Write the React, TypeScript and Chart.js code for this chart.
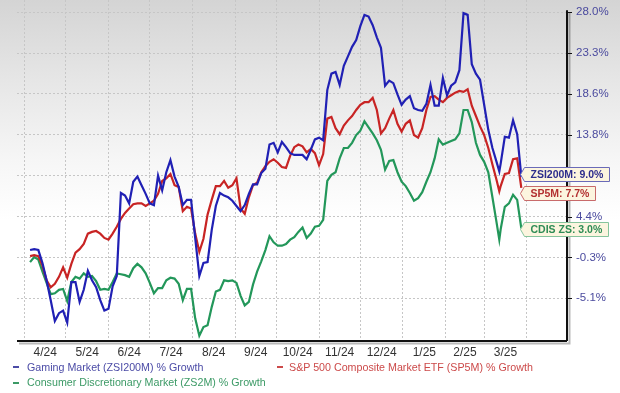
import { useEffect, useRef } from 'react';
import { Chart, registerables } from 'chart.js';

Chart.register(...registerables);

const FONT = '"Liberation Sans", Arial, Helvetica, sans-serif';

// x values: days since 2024-04-01
const days = [
  4, 7, 10, 13, 16, 19, 22, 25, 28, 31,
  34, 37, 40, 43, 46, 49, 52, 55, 58, 61,
  64, 67, 70, 73, 76, 79, 82, 85, 88, 91,
  94, 97, 100, 103, 106, 109, 112, 115, 118, 121,
  124, 127, 130, 133, 136, 139, 142, 145, 148, 151,
  154, 157, 160, 163, 166, 169, 172, 175, 178, 181,
  184, 187, 190, 193, 196, 199, 202, 205, 208, 211,
  214, 217, 220, 223, 226, 229, 232, 235, 238, 241,
  244, 247, 250, 253, 256, 259, 262, 265, 268, 271,
  274, 277, 280, 283, 286, 289, 292, 295, 298, 301,
  304, 307, 310, 313, 316, 319, 322, 325, 328, 331,
  334, 337, 340, 343, 345,
  346, 349, 352, 355, 358, 361,
];

const gaming = [
  0.5, 0.6, 0.5, -1.0, -3.0, -5.3, -7.7, -6.8, -6.5, -7.9,
  -3.2, -3.2, -5.5, -4.1, -1.9, -3.0, -3.8, -5.3, -6.5, -6.3,
  -3.7, -2.5, 7.1, 6.8, 5.9, 8.4, 9.0, 8.0, 7.0, 5.9,
  5.7, 9.1, 7.4, 9.5, 10.9, 9.0, 7.8, 5.7, 6.3, 6.3,
  1.9, -2.5, -1.0, -0.9, 2.8, 5.6, 7.1, 6.8, 6.6, 6.2,
  5.6, 5.0, 5.7, 7.0, 8.1, 8.1, 9.4, 9.9, 12.7, 12.9,
  11.8, 13.0, 12.4, 11.7, 11.5, 11.5, 11.5, 11.0, 12.1, 13.3,
  13.5, 13.2, 19.0, 20.9, 21.1, 19.6, 21.8, 22.9, 24.0, 24.8,
  26.4, 27.7, 27.5, 26.5, 25.1, 23.9, 19.5, 20.1, 19.8, 18.5,
  17.3, 17.9, 18.3, 16.9, 16.7, 16.6, 17.4, 19.6, 17.2, 17.2,
  20.4, 18.4, 19.5, 19.9, 21.3, 27.9, 27.7, 22.0, 20.9, 20.2,
  17.3, 14.4, 12.3, 10.7, 9.6,
  10.5, 13.6, 13.5, 15.5, 13.9, 9.0,
];

const sp500 = [
  -0.2, -0.1, -0.2, -1.3, -3.0, -3.8, -3.4, -2.6, -1.5, -2.7,
  -1.1, 0.2, 0.6, 1.2, 2.4, 2.6, 2.7, 2.4, 1.9, 1.7,
  2.4, 3.2, 4.1, 4.8, 5.3, 5.8, 5.9, 5.9, 5.6, 5.9,
  6.2, 7.0, 8.5, 8.8, 9.3, 8.0, 7.8, 5.0, 5.5, 5.3,
  2.4, 0.3, 1.8, 4.6, 6.3, 7.9, 7.9, 8.5, 7.7, 8.0,
  8.8, 5.3, 4.7, 6.6, 8.0, 8.3, 9.5, 10.2, 10.7, 11.0,
  10.6, 10.1, 10.0, 11.4, 12.4, 12.7, 12.5, 11.8, 12.2, 11.7,
  10.3, 11.6, 15.7, 15.9, 14.6, 13.9, 14.9, 15.5, 16.0, 16.7,
  17.3, 17.6, 17.6, 18.1, 16.7, 14.0, 14.6, 15.7, 16.7, 15.1,
  14.2, 15.1, 15.5, 13.8, 13.5, 14.6, 16.7, 18.2, 18.3, 17.9,
  17.6, 18.1, 18.4, 18.7, 18.9, 18.8, 19.1, 17.2, 16.0, 14.8,
  13.8, 12.3, 10.4, 8.6, 7.3,
  7.9, 9.3, 9.4, 11.0, 11.1, 7.7,
];

const consumer = [
  -0.9, -0.3, -0.6, -2.0, -3.3, -4.6, -4.5, -4.1, -4.0, -5.4,
  -3.2, -2.6, -2.8, -2.2, -2.6, -2.5, -3.1, -4.1, -4.0, -4.1,
  -3.2, -2.2, -2.3, -2.4, -2.6, -1.6, -1.1, -1.5, -2.2, -3.3,
  -4.5, -3.9, -3.9, -3.0, -2.7, -2.8, -3.4, -5.3, -4.0, -4.0,
  -7.4, -9.4, -8.4, -8.2, -6.1, -4.3, -4.1, -3.0, -3.1, -3.0,
  -3.3, -4.8, -5.9, -5.5, -3.5, -2.0, -0.8, 0.5, 2.1, 1.4,
  1.0, 1.0, 1.2, 1.7, 2.0, 2.6, 3.1, 1.9, 2.4, 3.2,
  3.3, 4.0, 8.5, 9.2, 9.5, 11.1, 12.3, 12.3, 12.9, 13.8,
  14.3, 15.4, 14.7, 14.0, 13.2, 12.1, 9.8, 10.8, 10.9, 9.5,
  8.4, 7.9, 7.1, 6.2, 6.5, 7.2, 8.4, 9.5, 11.1, 13.3,
  12.7, 12.9, 13.1, 13.3, 14.0, 16.7, 16.7, 15.3, 12.9, 11.5,
  10.7, 9.5, 6.6, 3.7, 1.7,
  2.9, 5.5, 5.9, 6.9, 6.3, 3.0,
];

// month boundaries (days since 2024-04-01) and labels shown between them
const monthStarts = [0, 30, 61, 91, 122, 153, 183, 214, 244, 275, 306, 334, 365];
const monthLabels = ['4/24', '5/24', '6/24', '7/24', '8/24', '9/24', '10/24', '11/24', '12/24', '1/25', '2/25', '3/25'];

const yTicks = [28.0, 23.275, 18.55, 13.825, 9.1, 4.375, -0.35, -5.075];
const yTickLabels = ['28.0%', '23.3%', '18.6%', '13.8%', '9.1%', '4.4%', '-0.3%', '-5.1%'];

const seriesNames = [
  'Gaming Market (ZSI200M) % Growth',
  'S&P 500 Composite Market ETF (SP5M) % Growth',
  'Consumer Discretionary Market (ZS2M) % Growth',
];
const tagNames = ['ZSI200M', 'SP5M', 'CDIS ZS'];

const BLUE = '#2020b4';
const RED = '#c82424';
const GREEN = '#23975a';

export default function App() {
  const ref = useRef<HTMLCanvasElement>(null);

  useEffect(() => {
    const canvas = ref.current;
    if (!canvas) return;
    const mids = monthStarts.slice(0, -1).map((s, i) => (s + monthStarts[i + 1]) / 2);

    const tags = [
      { name: tagNames[0], values: gaming, dy: -3, stroke: '#6a6ab8', color: '#2c2c8c' },
      { name: tagNames[1], values: sp500, dy: 5, stroke: '#c86a6a', color: '#b33030' },
      { name: tagNames[2], values: consumer, dy: 0.5, stroke: '#86c49c', color: '#2e8c55' },
    ];

    const framePlugin = {
      id: 'frame',
      afterDraw(chart: any) {
        const { ctx, chartArea } = chart;
        const { left, right, bottom } = chartArea;
        const ys = chart.scales.y;
        const topY = ys.getPixelForValue(yTicks[0]) - 2;
        ctx.save();
        // shadow
        ctx.strokeStyle = 'rgba(0,0,0,0.28)';
        ctx.lineWidth = 2;
        ctx.beginPath();
        ctx.moveTo(left + 2, bottom + 2.5);
        ctx.lineTo(right + 2.5, bottom + 2.5);
        ctx.lineTo(right + 2.5, topY + 2);
        ctx.stroke();
        // axis lines
        ctx.strokeStyle = '#111';
        ctx.lineWidth = 2;
        ctx.beginPath();
        ctx.moveTo(left, bottom);
        ctx.lineTo(right, bottom);
        ctx.moveTo(right, bottom);
        ctx.lineTo(right, topY);
        ctx.stroke();
        // tick marks
        ctx.lineWidth = 1;
        ctx.beginPath();
        yTicks.forEach((v) => {
          const y = Math.round(ys.getPixelForValue(v)) + 0.5;
          ctx.moveTo(right, y);
          ctx.lineTo(right + 5, y);
        });
        ctx.stroke();

        // end-value tags
        const xs = chart.scales.x;
        const last = days.length - 1;
        ctx.font = `bold 10.5px ${FONT}`;
        tags.forEach((t) => {
          const v = t.values[last];
          const xEnd = xs.getPixelForValue(days[last]);
          const yc = Math.round(ys.getPixelForValue(v) + t.dy) + 0.5;
          const text = `${t.name}: ${v.toFixed(1)}%`;
          const w = ctx.measureText(text).width;
          const tip = Math.round(xEnd - 1.5) + 0.5;
          const l = tip + 4;
          const r = Math.round(l + w + 12) + 0.5;
          const h = 7;
          ctx.beginPath();
          ctx.moveTo(tip, yc);
          ctx.lineTo(l, yc - h);
          ctx.lineTo(r, yc - h);
          ctx.lineTo(r, yc + h);
          ctx.lineTo(l, yc + h);
          ctx.closePath();
          ctx.fillStyle = '#fcf5df';
          ctx.fill();
          ctx.strokeStyle = t.stroke;
          ctx.lineWidth = 1;
          ctx.stroke();
          ctx.fillStyle = t.color;
          ctx.textBaseline = 'middle';
          ctx.textAlign = 'left';
          ctx.fillText(text, l + 6, yc + 0.5);
        });
        ctx.restore();
      },
    };

    const toPoints = (vals: number[]) => days.map((d, i) => ({ x: d, y: vals[i] }));

    const chart = new Chart(canvas, {
      type: 'line',
      data: {
        datasets: [
          { label: seriesNames[0], data: toPoints(gaming), borderColor: BLUE, borderWidth: 2.2, pointRadius: 0, tension: 0, order: 1 },
          { label: seriesNames[1], data: toPoints(sp500), borderColor: RED, borderWidth: 2.2, pointRadius: 0, tension: 0, order: 2 },
          { label: seriesNames[2], data: toPoints(consumer), borderColor: GREEN, borderWidth: 2.2, pointRadius: 0, tension: 0, order: 3 },
        ],
      },
      options: {
        responsive: false,
        animation: false,
        devicePixelRatio: 1,
        layout: { padding: { left: 17, right: 0, top: 0, bottom: 0 } },
        plugins: { legend: { display: false }, tooltip: { enabled: false }, title: { display: false } },
        scales: {
          x: {
            type: 'linear',
            min: -5.5,
            max: 394.2,
            afterBuildTicks: (axis: any) => {
              axis.ticks = [...monthStarts, ...mids].sort((a, b) => a - b).map((v) => ({ value: v }));
            },
            afterFit: (axis: any) => {
              axis.height = 52;
              axis.paddingLeft = 0;
              axis.paddingRight = 0;
            },
            ticks: {
              autoSkip: false,
              maxRotation: 0,
              minRotation: 0,
              padding: 4,
              color: '#333333',
              font: { family: FONT, size: 12 },
              callback: (value: any) => {
                const j = mids.findIndex((m) => Math.abs(m - Number(value)) < 0.01);
                return j >= 0 ? monthLabels[j] : '';
              },
            },
            grid: {
              drawTicks: false,
              lineWidth: 1,
              color: (ctx: any) => {
                const v = ctx.tick ? ctx.tick.value : NaN;
                return monthStarts.some((m) => Math.abs(m - v) < 0.01) ? '#c6c6c6' : 'rgba(0,0,0,0)';
              },
            },
            border: { display: false, dash: [2, 2] },
          },
          y: {
            type: 'linear',
            position: 'right',
            min: -10.02,
            max: 29.42,
            afterBuildTicks: (axis: any) => {
              axis.ticks = yTicks.map((v) => ({ value: v }));
            },
            afterFit: (axis: any) => {
              axis.width = 53;
              axis.paddingTop = 0;
              axis.paddingBottom = 0;
            },
            ticks: {
              padding: 9,
              color: '#4a4a9e',
              font: { family: FONT, size: 11.5 },
              callback: (value: any) => {
                const j = yTicks.findIndex((t) => Math.abs(t - Number(value)) < 1e-6);
                return j >= 0 ? yTickLabels[j] : '';
              },
            },
            grid: { drawTicks: false, color: '#c6c6c6', lineWidth: 1 },
            border: { display: false, dash: [2, 2] },
          },
        },
      },
      plugins: [framePlugin],
    } as any);

    return () => chart.destroy();
  }, []);

  const legendText = (color: string) => ({
    position: 'absolute' as const,
    fontFamily: FONT,
    fontSize: 10.7,
    lineHeight: '13px',
    color,
    whiteSpace: 'nowrap' as const,
  });
  const dash = (color: string, left: number, top: number) => (
    <div style={{ position: 'absolute', left, top, width: 6, height: 2, background: color }} />
  );

  return (
    <div
      style={{
        position: 'fixed',
        left: 0,
        top: 0,
        width: 620,
        height: 393,
        overflow: 'hidden',
        background: 'linear-gradient(180deg, #d4d4d4 0px, #e6e6e6 80px, #f6f6f6 160px, #ffffff 220px)',
      }}
    >
      <canvas ref={ref} width={620} height={393} style={{ position: 'absolute', left: 0, top: 0, display: 'block' }} />
      {dash('#4b4ba6', 13, 366)}
      <div style={{ ...legendText('#4b4ba6'), left: 27, top: 360.5 }}>{seriesNames[0]}</div>
      {dash('#cc4a4a', 277, 366)}
      <div style={{ ...legendText('#cc4a4a'), left: 289, top: 360.5 }}>{seriesNames[1]}</div>
      {dash('#3c9a66', 13, 381.5)}
      <div style={{ ...legendText('#3c9a66'), left: 27, top: 376 }}>{seriesNames[2]}</div>
    </div>
  );
}
